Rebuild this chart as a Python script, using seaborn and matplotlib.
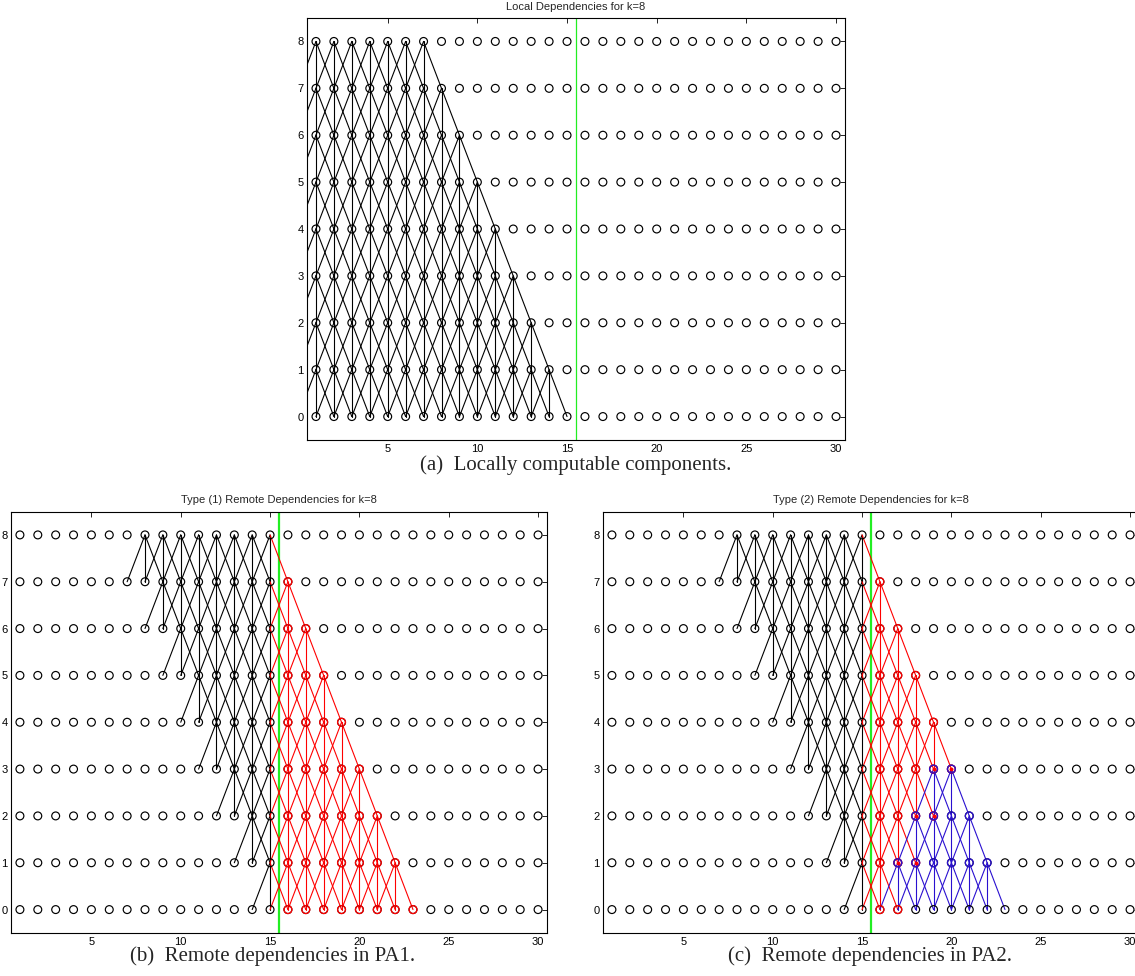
import numpy as np
import pandas as pd
import matplotlib
matplotlib.use("Agg")
import matplotlib.pyplot as plt
import seaborn as sns

# ---------------- data ----------------
x_positions = list(range(1, 31))          # columns of the grid
levels = list(range(0, 9))                # rows of the grid (k = 8)
boundary = 15.5                           # processor boundary
x_ticks = [5, 10, 15, 20, 25, 30]
y_ticks = [0, 1, 2, 3, 4, 5, 6, 7, 8]

# panel (a): locally computable sources, per level 1..8 (first, last column)
local_first = [None, 1, 1, 1, 1, 1, 1, 1, 1]
local_last = [None, 14, 13, 12, 11, 10, 9, 8, 7]

# panels (b),(c): black sources in PA1, per level 1..8
remote_black_first = [None, 15, 14, 13, 12, 11, 10, 9, 8]
remote_black_last = [None, 15, 15, 15, 15, 15, 15, 15, 15]

# panel (b): red sources in PA2, per level 1..7
pa1_red_first = [None, 16, 16, 16, 16, 16, 16, 16, None]
pa1_red_last = [None, 22, 21, 20, 19, 18, 17, 16, None]

# panel (c): red and blue sources, per level
pa2_red_sources = {1: [16], 2: [16, 17], 3: [16, 17, 18], 4: [16, 17, 18, 19],
                   5: [16, 17, 18], 6: [16, 17], 7: [16]}
pa2_blue_sources = {1: [17, 18, 19, 20, 21, 22], 2: [18, 19, 20, 21], 3: [19, 20]}

titles = ["Local Dependencies for k=8",
          "Type (1) Remote Dependencies for k=8",
          "Type (2) Remote Dependencies for k=8"]
captions = ["(a)  Locally computable components.",
            "(b)  Remote dependencies in PA1.",
            "(c)  Remote dependencies in PA2."]

RED = "#ff0000"
BLUE = "#2a10d0"
BLACK = "#000000"
GREEN = "#22ee22"


def ranges_to_sources(first, last, color):
    out = []
    for lev in range(1, 9):
        if first[lev] is None:
            continue
        for xx in range(first[lev], last[lev] + 1):
            out.append((xx, lev, color))
    return out


def dict_to_sources(d, color):
    out = []
    for lev, xs in d.items():
        for xx in xs:
            out.append((xx, lev, color))
    return out


def build(sources):
    rows = []
    red_nodes = set()
    blue_nodes = set()
    eid = 0
    for sx, sl, col in sources:
        if col == "blue":
            blue_nodes.add((sx, sl))
        for d in (-1, 0, 1):
            tx, tl = sx + d, sl - 1
            c = col
            if col == "black" and tx > boundary:
                c = "red"
            if c == "red":
                for nx, nl in ((sx, sl), (tx, tl)):
                    if nx > boundary:
                        red_nodes.add((nx, nl))
            rows.append(dict(eid=eid, x=sx, y=sl, c=c))
            rows.append(dict(eid=eid, x=tx, y=tl, c=c))
            eid += 1
    return pd.DataFrame(rows), red_nodes, blue_nodes


black_remote = ranges_to_sources(remote_black_first, remote_black_last, "black")
panel_sources = [
    ranges_to_sources(local_first, local_last, "black"),
    black_remote + ranges_to_sources(pa1_red_first, pa1_red_last, "red"),
    black_remote + dict_to_sources(pa2_red_sources, "red")
    + dict_to_sources(pa2_blue_sources, "blue"),
]

# ---------------- figure ----------------
sns.set_style("white")
plt.rcParams["font.family"] = ["Liberation Sans", "DejaVu Sans"]

W, H = 1135, 976
fig = plt.figure(figsize=(W / 100, H / 100), dpi=100)

axes_px = [(307, 18, 538, 422), (11, 511.5, 536, 421.5), (603, 511.5, 536, 421.5)]
caption_xy = [(576, 465), (273, 956), (870, 956)]
green_lw = [0.9, 1.6, 1.6]

grid_x, grid_y = np.meshgrid(x_positions, levels)
grid_df = pd.DataFrame({"x": grid_x.ravel(), "y": grid_y.ravel()})
palette = {"black": BLACK, "red": RED, "blue": BLUE}

for k in range(3):
    l, t, w, h = axes_px[k]
    ax = fig.add_axes([l / W, 1 - (t + h) / H, w / W, h / H])
    edges, red_nodes, blue_nodes = build(panel_sources[k])
    present = [c for c in ["black", "red", "blue"] if c in set(edges["c"])]
    sns.lineplot(data=edges, x="x", y="y", units="eid", estimator=None,
                 hue="c", hue_order=present, palette=palette, sort=False,
                 legend=False, linewidth=0.8, ax=ax, zorder=2)
    ax.axvline(boundary, color=GREEN, lw=green_lw[k], zorder=1.5)
    sns.scatterplot(data=grid_df, x="x", y="y", color=BLACK, facecolor="none",
                    edgecolor=BLACK, s=32, linewidth=0.85, marker="o", ax=ax,
                    zorder=3, legend=False)
    if red_nodes:
        rn = pd.DataFrame(sorted(red_nodes), columns=["x", "y"])
        sns.scatterplot(data=rn, x="x", y="y", color=RED, facecolor="none",
                        edgecolor=RED, s=32, linewidth=0.95, marker="o", ax=ax,
                        zorder=4, legend=False)
    if blue_nodes:
        bn = pd.DataFrame(sorted(blue_nodes), columns=["x", "y"])
        sns.scatterplot(data=bn, x="x", y="y", color=BLUE, facecolor="none",
                        edgecolor=BLUE, s=32, linewidth=0.95, marker="o", ax=ax,
                        zorder=5, legend=False)
        both = sorted(red_nodes & blue_nodes)
        if both:
            bd = pd.DataFrame(both, columns=["x", "y"])
            sns.scatterplot(data=bd, x="x", y="y", color=RED, s=8,
                            linewidth=0, marker="o", ax=ax, zorder=6,
                            legend=False)
    ax.set_xlim(0.5, 30.5)
    ax.set_ylim(-0.5, 8.5)
    ax.set_xticks(x_ticks)
    ax.set_yticks(y_ticks)
    ax.set_xlabel("")
    ax.set_ylabel("")
    ax.tick_params(axis="both", direction="in", length=3.5, width=0.6,
                   top=True, right=True, labelsize=8, colors=BLACK)
    ax.tick_params(axis="y", pad=2.5)
    ax.tick_params(axis="x", pad=3)
    for sp in ax.spines.values():
        sp.set_visible(True)
        sp.set_color(BLACK)
        sp.set_linewidth(0.8)
    ax.set_title(titles[k], fontsize=8, pad=6, family=["Liberation Sans"])
    cx, cy = caption_xy[k]
    fig.text(cx / W, 1 - cy / H, captions[k], ha="center", va="center",
             fontsize=15, family=["Liberation Serif"])

fig.savefig("out.png", dpi=100)
